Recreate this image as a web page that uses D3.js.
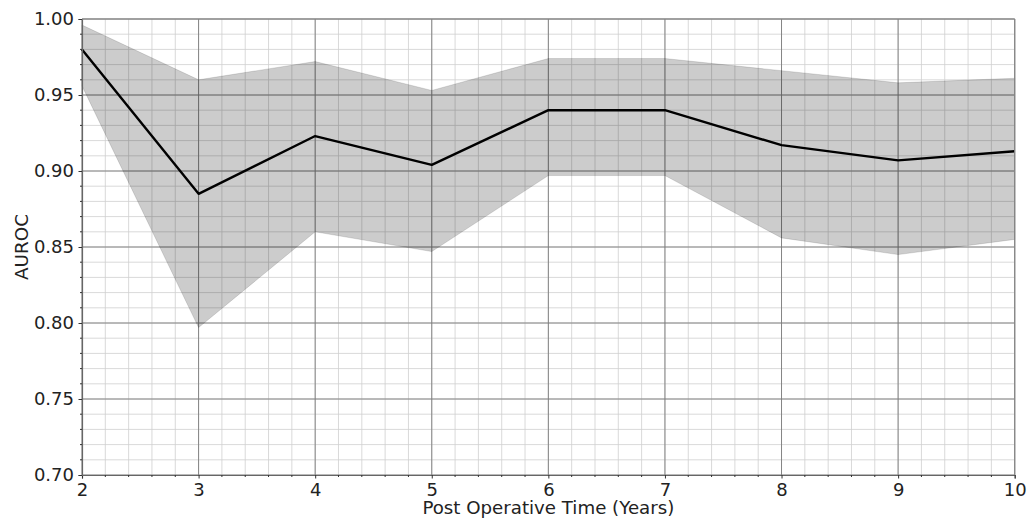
<!DOCTYPE html>
<html>
<head>
<meta charset="utf-8">
<script src="https://cdn.jsdelivr.net/npm/d3@7"></script>
<style>
  body { margin: 0; background: #fff; }
  svg { display: block; font-family: "DejaVu Sans", sans-serif; }
</style>
</head>
<body>
<svg></svg>
<script>
const w = 1030
const h = 524

// data
const years = [2, 3, 4, 5, 6, 7, 8, 9, 10]
const meanAuroc = [0.980, 0.885, 0.923, 0.904, 0.940, 0.940, 0.917, 0.907, 0.913]
const upperAuroc = [0.996, 0.960, 0.972, 0.953, 0.974, 0.974, 0.966, 0.958, 0.961]
const lowerAuroc = [0.956, 0.797, 0.860, 0.847, 0.897, 0.897, 0.856, 0.845, 0.855]
const xTicks = [2, 3, 4, 5, 6, 7, 8, 9, 10]
const yTicks = [0.70, 0.75, 0.80, 0.85, 0.90, 0.95, 1.00]

const svg = d3.select('svg')
  .attr('width', w)
  .attr('height', h);

const margin = {top: 19, right: 15.3, bottom: 49, left: 82};
const innerWidth = w - margin.left - margin.right;
const innerHeight = h - margin.top - margin.bottom;

const xScale = d3.scaleLinear()
  .domain([2, 10])
  .range([0, innerWidth]);

const yScale = d3.scaleLinear()
  .domain([0.70, 1.00])
  .range([innerHeight, 0]);

const data = years.map((yr, i) => ({
  yr, mean: meanAuroc[i], lo: lowerAuroc[i], hi: upperAuroc[i]
}));

const g = svg.append('g')
  .attr('transform', `translate(${margin.left}, ${margin.top})`);

// minor grid: 0.2 years, 0.01 auroc
const xMinor = d3.range(2, 10.0001, 0.2).map(v => +v.toFixed(2));
const yMinor = d3.range(0.70, 1.0001, 0.01).map(v => +v.toFixed(2));

g.append('g').selectAll('line').data(xMinor)
  .enter().append('line')
    .attr('x1', d => xScale(d)).attr('x2', d => xScale(d))
    .attr('y1', 0).attr('y2', innerHeight)
    .attr('stroke', '#cfcfcf').attr('stroke-width', 0.8);

g.append('g').selectAll('line').data(yMinor)
  .enter().append('line')
    .attr('y1', d => yScale(d)).attr('y2', d => yScale(d))
    .attr('x1', 0).attr('x2', innerWidth)
    .attr('stroke', '#cfcfcf').attr('stroke-width', 0.8);

// major grid
g.append('g').selectAll('line').data(xTicks)
  .enter().append('line')
    .attr('x1', d => xScale(d)).attr('x2', d => xScale(d))
    .attr('y1', 0).attr('y2', innerHeight)
    .attr('stroke', '#7a7a7a').attr('stroke-width', 0.9);

g.append('g').selectAll('line').data(yTicks)
  .enter().append('line')
    .attr('y1', d => yScale(d)).attr('y2', d => yScale(d))
    .attr('x1', 0).attr('x2', innerWidth)
    .attr('stroke', '#7a7a7a').attr('stroke-width', 0.9);

// confidence band
const band = d3.area()
  .x(d => xScale(d.yr))
  .y0(d => yScale(d.lo))
  .y1(d => yScale(d.hi));

g.append('path')
  .datum(data)
  .attr('d', band)
  .attr('fill', 'black')
  .attr('fill-opacity', 0.2)
  .attr('stroke', 'black')
  .attr('stroke-opacity', 0.12)
  .attr('stroke-width', 1);

// mean line
const line = d3.line()
  .x(d => xScale(d.yr))
  .y(d => yScale(d.mean));

g.append('path')
  .datum(data)
  .attr('d', line)
  .attr('fill', 'none')
  .attr('stroke', 'black')
  .attr('stroke-width', 2.4)
  .attr('stroke-linejoin', 'round');

// axes
const xAxisG = g.append('g')
  .attr('transform', `translate(0, ${innerHeight})`)
  .call(d3.axisBottom(xScale).tickValues(xTicks).tickFormat(d3.format('d')).tickSize(3.5).tickPadding(4.5));

xAxisG.append('g').selectAll('line').data(xMinor.filter(d => !xTicks.includes(d)))
  .enter().append('line')
    .attr('x1', d => xScale(d)).attr('x2', d => xScale(d))
    .attr('y1', 0).attr('y2', 2)
    .attr('stroke', '#333');

const yAxisG = g.append('g')
  .call(d3.axisLeft(yScale).tickValues(yTicks).tickFormat(d3.format('.2f')).tickSize(3.5).tickPadding(4.5));

yAxisG.append('g').selectAll('line').data(yMinor.filter(d => !yTicks.some(t => Math.abs(t - d) < 1e-6)))
  .enter().append('line')
    .attr('y1', d => yScale(d)).attr('y2', d => yScale(d))
    .attr('x1', 0).attr('x2', -2)
    .attr('stroke', '#333');

g.selectAll('.tick text')
  .attr('font-family', '"DejaVu Sans", sans-serif')
  .attr('font-size', '18px')
  .attr('fill', '#222');

g.selectAll('.domain').attr('stroke', '#666').attr('stroke-width', 1.2);
g.selectAll('.tick line').attr('stroke', '#333');

// top and right spines
g.append('line')
  .attr('x1', 0).attr('x2', innerWidth).attr('y1', 0).attr('y2', 0)
  .attr('stroke', '#888').attr('stroke-width', 1.2);
g.append('line')
  .attr('x1', innerWidth).attr('x2', innerWidth).attr('y1', 0).attr('y2', innerHeight)
  .attr('stroke', '#888').attr('stroke-width', 1.2);

// axis labels
svg.append('text')
  .attr('x', margin.left + innerWidth / 2)
  .attr('y', 514)
  .attr('text-anchor', 'middle')
  .attr('font-size', '18.2px')
  .attr('fill', '#222')
  .text('Post Operative Time (Years)');

svg.append('text')
  .attr('transform', `translate(28, ${margin.top + innerHeight / 2}) rotate(-90)`)
  .attr('text-anchor', 'middle')
  .attr('font-size', '18.4px')
  .attr('fill', '#222')
  .text('AUROC');
</script>
</body>
</html>
